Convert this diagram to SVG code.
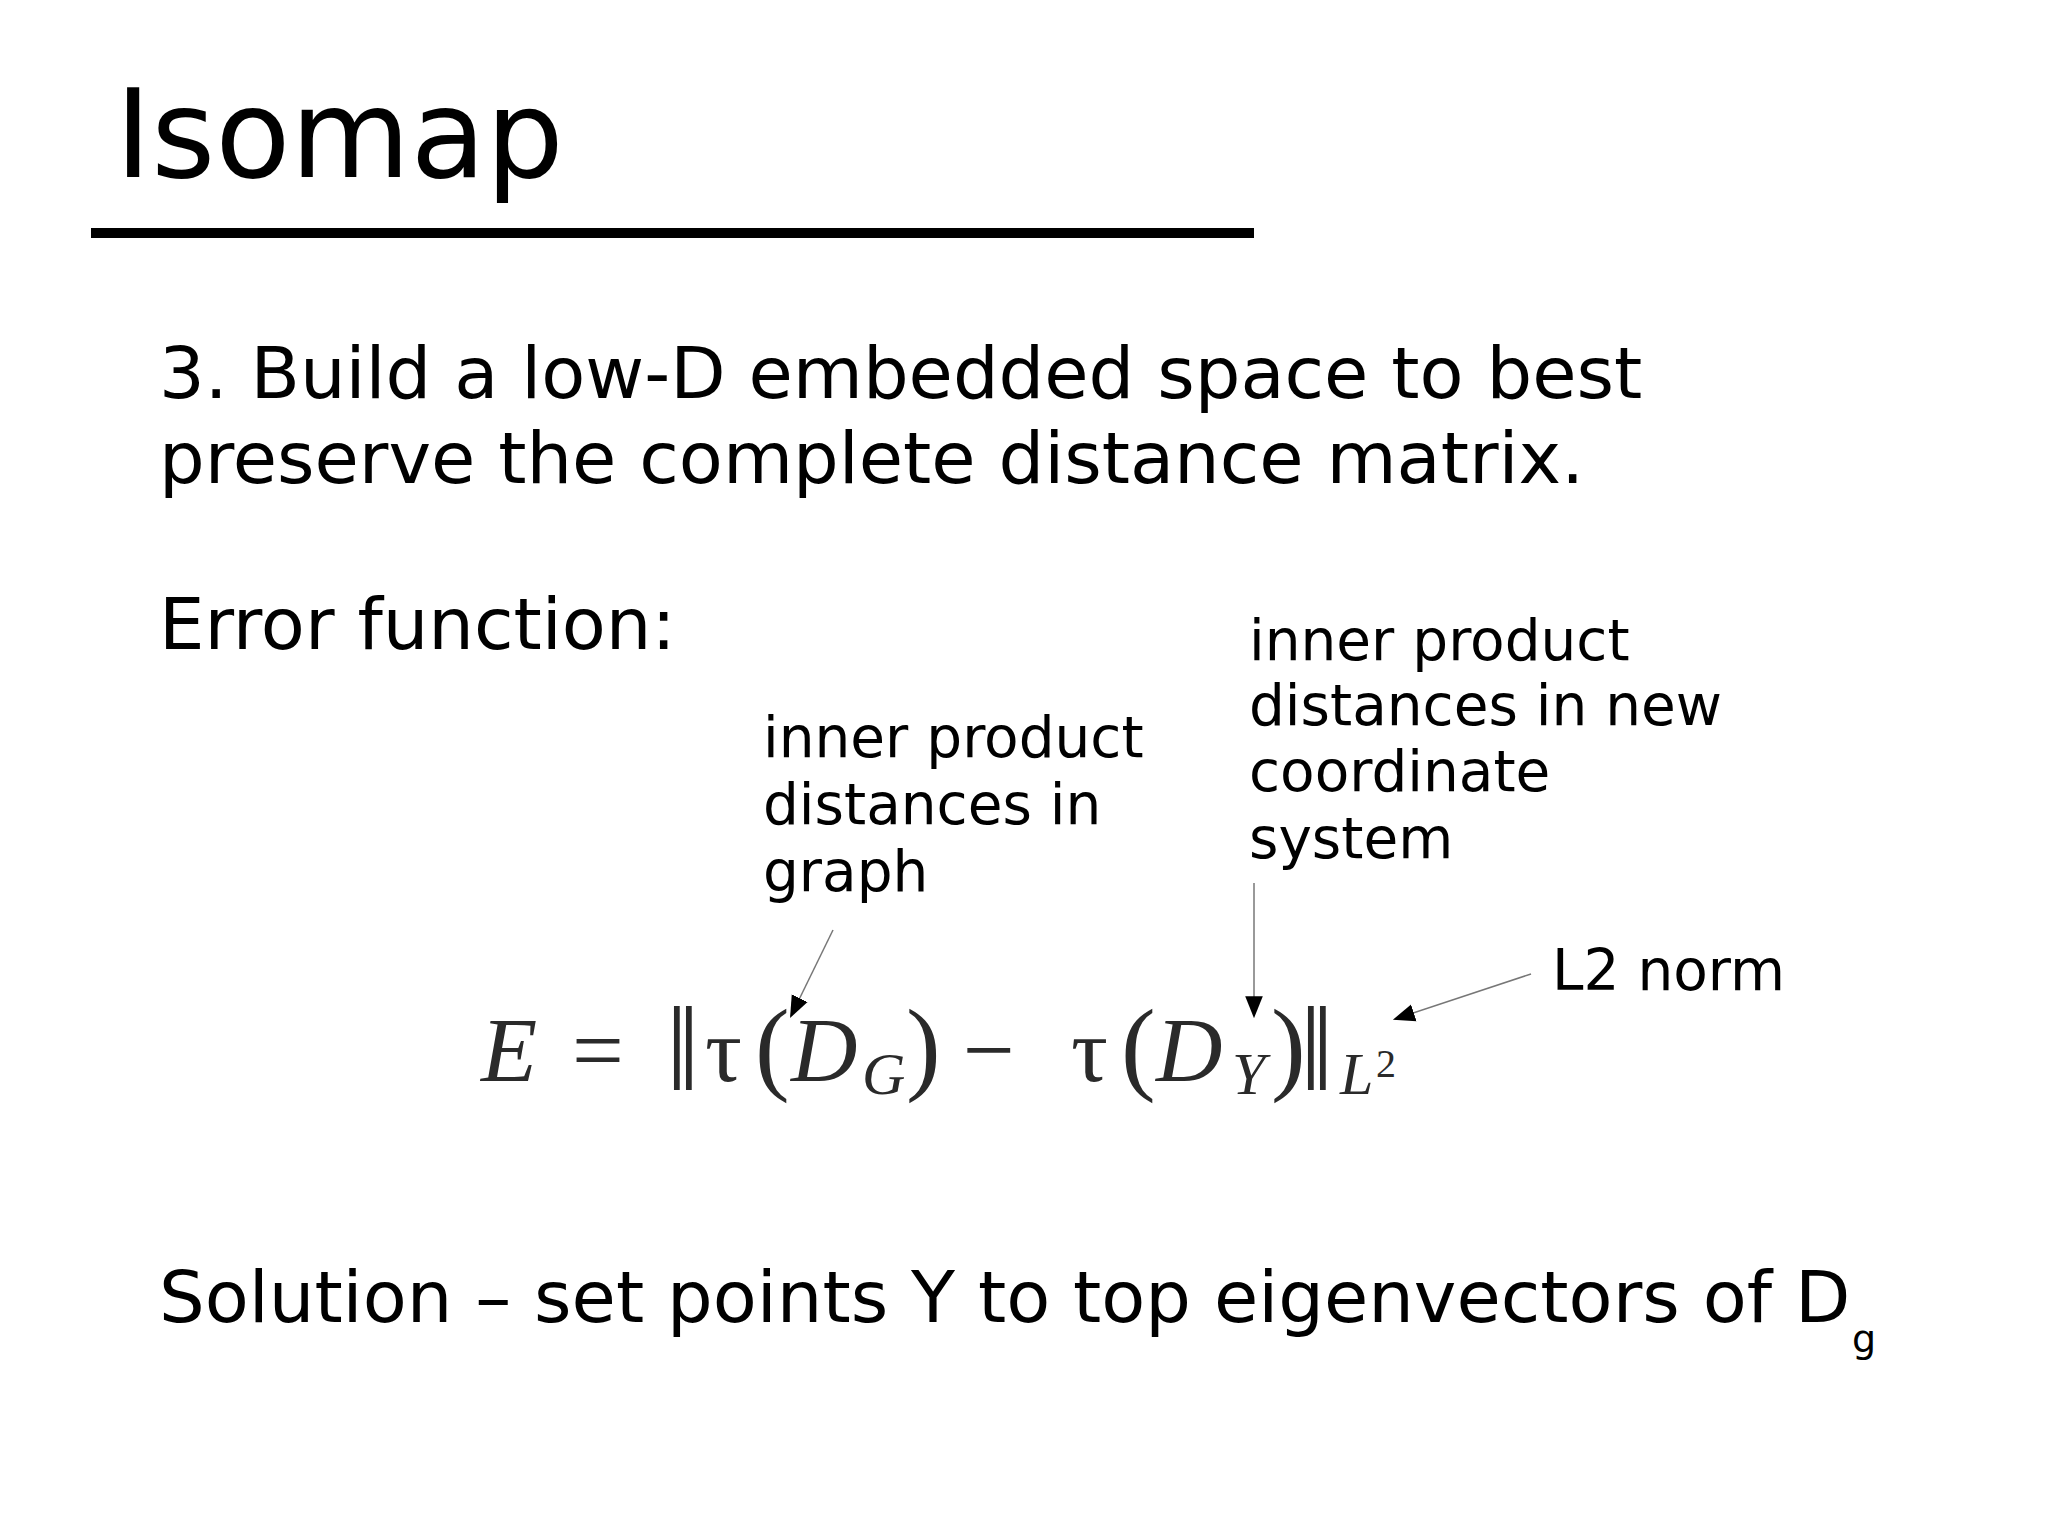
<svg xmlns="http://www.w3.org/2000/svg" width="2048" height="1535" viewBox="0 0 2048 1535">
<style>
.t{font-family:"DejaVu Sans",sans-serif;fill:#000}
.m{font-family:"Liberation Serif","DejaVu Serif",serif;fill:#2a2a2a}
.i{font-style:italic}
.c{stroke:#777;stroke-width:1.5;fill:none;marker-end:url(#a)}
</style>
<defs><marker id="a" viewBox="0 0 10 10" refX="9" refY="5" markerWidth="22" markerHeight="22" markerUnits="userSpaceOnUse" orient="auto"><path d="M0,1L10,5L0,9z" fill="#000"/></marker></defs>
<rect width="2048" height="1535" fill="#fff"/>
<g id="title"><text class="t" x="115" y="177" font-size="123">Isomap</text><rect x="91" y="228" width="1163" height="10" fill="#000"/></g>
<g id="body" class="t" font-size="72">
<text x="159" y="398">3. Build a low-D embedded space to best</text>
<text x="159" y="483">preserve the complete distance matrix.</text>
<text x="159" y="649">Error function:</text>
<text x="159" y="1322">Solution – set points Y to top eigenvectors of D</text>
<text x="1852" y="1352" font-size="38">g</text>
</g>
<g id="ann1" class="t" font-size="56.5"><text x="763" y="757">inner product</text><text x="763" y="824">distances in</text><text x="763" y="891">graph</text></g>
<g id="ann2" class="t" font-size="56.5"><text x="1249" y="660">inner product</text><text x="1249" y="725">distances in new</text><text x="1249" y="791">coordinate</text><text x="1249" y="858">system</text></g>
<g id="ann3" class="t" font-size="56.5"><text x="1552" y="990">L2 norm</text></g>
<g id="eq" class="m" font-size="92">
<text x="481" y="1081" class="i">E</text>
<text x="572" y="1081">=</text>
<text x="666" y="1090" font-size="120">‖</text>
<text x="705" y="1081">τ</text>
<text x="755" y="1081" font-size="104">(</text>
<text x="791" y="1081" class="i">D</text>
<text x="862" y="1094" class="i" font-size="60">G</text>
<text x="906" y="1081" font-size="104">)</text>
<text x="963" y="1081">−</text>
<text x="1071" y="1081">τ</text>
<text x="1121" y="1081" font-size="104">(</text>
<text x="1156" y="1081" class="i">D</text>
<text x="1232" y="1094" class="i" font-size="60">Y</text>
<text x="1271" y="1081" font-size="104">)</text>
<text x="1300" y="1090" font-size="120">‖</text>
<text x="1340" y="1094" class="i" font-size="60">L</text>
<text x="1376" y="1077" font-size="40">2</text>
</g>
<g id="connectors">
<line class="c" x1="833" y1="930" x2="791" y2="1016"/>
<line class="c" x1="1254" y1="883" x2="1254" y2="1016"/>
<line class="c" x1="1531" y1="974" x2="1395" y2="1019"/>
</g>
</svg>
